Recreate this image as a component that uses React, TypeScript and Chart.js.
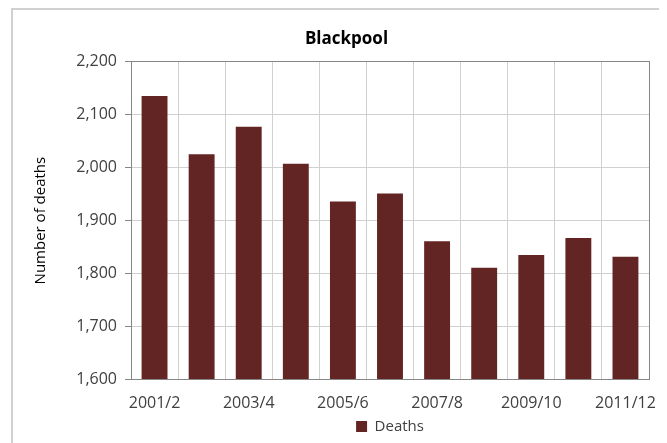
import React, { useEffect, useRef } from "react";
import { Chart, registerables } from "chart.js";

Chart.register(...registerables);

const categories = ["2001/2", "2002/3", "2003/4", "2004/5", "2005/6", "2006/7", "2007/8", "2008/9", "2009/10", "2010/11", "2011/12"];
const deaths = [2135, 2025, 2077, 2007, 1936, 1951, 1861, 1811, 1835, 1867, 1832];
const yTicks = { min: 1600, max: 2200, step: 100 };
const seriesName = "Deaths";
const chartTitle = "Blackpool";
const yTitle = "Number of deaths";

const FONT = "'Open Sans', 'DejaVu Sans', sans-serif";

const plotBorder = {
  id: "plotBorder",
  afterDatasetsDraw(chart: any) {
    const { ctx, chartArea } = chart;
    ctx.save();
    ctx.strokeStyle = "#868686";
    ctx.lineWidth = 1;
    ctx.strokeRect(
      Math.round(chartArea.left) + 0.5,
      Math.round(chartArea.top) + 0.5,
      Math.round(chartArea.right - chartArea.left),
      Math.round(chartArea.bottom - chartArea.top)
    );
    ctx.restore();
  },
};

export default function App() {
  const ref = useRef<HTMLCanvasElement | null>(null);

  useEffect(() => {
    if (!ref.current) return;
    const chart = new Chart(ref.current, {
      type: "bar",
      data: {
        labels: categories,
        datasets: [
          {
            label: seriesName,
            data: deaths,
            backgroundColor: "#632523",
            borderWidth: 0,
            categoryPercentage: 1,
            barPercentage: 0.55,
            yAxisID: "y",
          },
        ],
      },
      options: {
        animation: false,
        responsive: false,
        maintainAspectRatio: false,
        layout: { padding: { left: 0, right: 0, top: 0, bottom: 6 } },
        plugins: {
          title: {
            display: true,
            text: chartTitle,
            color: "#000000",
            font: { family: FONT, size: 17, weight: "bold" },
            padding: { top: 19, bottom: 12 },
          },
          legend: {
            display: true,
            position: "bottom",
            fullSize: false,
            labels: {
              color: "#404040",
              font: { family: FONT, size: 15 },
              boxWidth: 11,
              boxHeight: 11,
              padding: 6,
            },
          },
          tooltip: { enabled: false },
        },
        scales: {
          x: {
            grid: { display: true, color: "#d0d0d0", drawTicks: false, offset: true },
            border: { display: false },
            ticks: {
              color: "#404040",
              font: { family: FONT, size: 16 },
              autoSkip: false,
              maxRotation: 0,
              padding: 14,
              callback: (_v: any, i: number) => (i % 2 === 0 ? categories[i] : ""),
            },
            afterFit: (scale: any) => {
              scale.height = scale.height - 14;
            },
          },
          y: {
            min: yTicks.min,
            max: yTicks.max,
            grid: { color: "#d0d0d0", tickColor: "#868686", tickLength: 6, drawTicks: true },
            border: { display: false },
            ticks: {
              stepSize: yTicks.step,
              color: "#404040",
              font: { family: FONT, size: 16 },
              padding: 8,
              callback: (v: any) => Number(v).toLocaleString("en-US"),
            },
            title: {
              display: true,
              text: yTitle,
              color: "#000000",
              font: { family: FONT, size: 15 },
              padding: { top: 19, bottom: 0 },
            },
            afterFit: (scale: any) => {
              scale.width = 118;
            },
          },
          yRight: {
            type: "linear",
            position: "right",
            display: true,
            grid: { display: false, drawTicks: false },
            border: { display: false },
            ticks: { display: false },
            afterFit: (scale: any) => {
              scale.width = 31;
            },
          },
        },
      },
      plugins: [plotBorder],
    } as any);
    return () => chart.destroy();
  }, []);

  return (
    <div style={{ width: 659, height: 435, overflow: "hidden" }}>
      <div
        style={{
          marginLeft: 3,
          width: 667,
          height: 440,
          border: "2px solid #d0d0d0",
        }}
      >
        <canvas ref={ref} width={667} height={440} style={{ display: "block" }} />
      </div>
    </div>
  );
}
